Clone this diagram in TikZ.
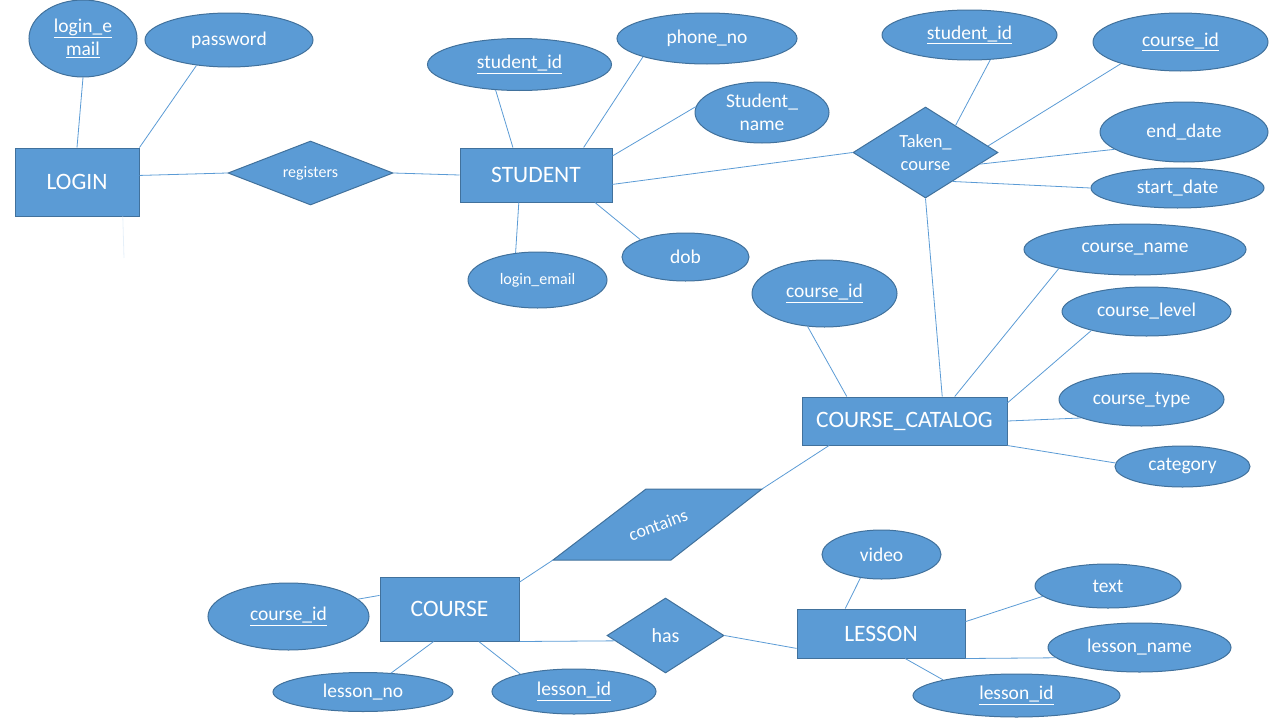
\documentclass[tikz,border=0pt]{standalone}
\usepackage{fontspec}
\setmainfont{Carlito}
\usetikzlibrary{shapes.geometric}
\definecolor{fillc}{HTML}{5B9BD5}
\definecolor{edgec}{HTML}{41719C}
\definecolor{linec}{HTML}{5B9BD5}
\begin{document}
\begin{tikzpicture}[x=1pt,y=-1pt,
  sz/.style 2 args={minimum width=#1pt,minimum height=#2pt},
  ent/.style={rectangle, fill=fillc, draw=edgec, line width=1pt, text=white,
    font=\fontsize{23.5}{28}\selectfont, inner sep=0pt},
  attr/.style={ellipse, fill=fillc, draw=edgec, line width=1pt, text=white,
    font=\fontsize{19.5}{23}\selectfont, inner sep=0pt, align=center},
  rel/.style={diamond, fill=fillc, draw=edgec, line width=1pt, text=white,
    inner sep=0pt, align=center},
  conn/.style={draw=linec, line width=0.8pt}]
\useasboundingbox (0,0) rectangle (1280,720);

% LOGIN
\node[ent, sz={124}{68}] (login) at (77,182) {LOGIN};
\node[attr, sz={108}{77}] (lmail) at (83,38.5) {\underline{login\_e}\\\underline{mail}};
\node[attr, sz={168}{54}] (pwd) at (229,40) {password};
\node[rel, sz={165}{64}, aspect=2.58, font=\fontsize{16}{19}\selectfont] (reg) at (310.5,173) {registers};

% STUDENT
\node[ent, sz={152}{54}] (student) at (536,175) {STUDENT};
\node[attr, sz={184}{52}] (sid) at (519.5,64.5) {\underline{student\_id}};
\node[attr, sz={180}{51}] (phone) at (707,38.5) {phone\_no};
\node[attr, sz={134}{61}] (sname) at (762,112.5) {Student\_\\name};
\node[attr, sz={127}{48}] (dob) at (685.5,257) {dob};
\node[attr, sz={139}{56}, font=\fontsize{16}{19}\selectfont] (lemail) at (537.5,280) {login\_email};

% Taken_course
\node[rel, sz={145}{91}, aspect=1.59, font=\fontsize{18.5}{23}\selectfont] (taken) at (925.5,152.5) {Taken\_\\course};
\node[attr, sz={175}{50}] (sid2) at (969.5,35) {\underline{student\_id}};
\node[attr, sz={175}{58}] (cid2) at (1180.5,42) {\underline{course\_id}};
\node[attr, sz={168}{60}] (edate) at (1184,132) {end\_date};
\node[attr, sz={173}{40}] (sdate) at (1177.5,188) {start\_date};

% COURSE_CATALOG
\node[ent, sz={205}{48}] (cc) at (904.5,421) {COURSE\_CATALOG};
\node[attr, sz={145}{67}] (cid3) at (824.5,293.5) {\underline{course\_id}};
\node[attr, sz={222}{51}] (cname) at (1135,249.5) {course\_name};
\node[attr, sz={169}{49}] (clevel) at (1146.5,311.5) {course\_level};
\node[attr, sz={165}{53}] (ctype) at (1141.5,399.5) {course\_type};
\node[attr, sz={135}{41}] (cat) at (1182.5,466.5) {category};

% contains
\coordinate (ctl) at (646,489);
\coordinate (ctr) at (762,489);
\coordinate (cbr) at (671,560);
\coordinate (cbl) at (553,560);
\filldraw[fill=fillc, draw=edgec, line width=1pt] (ctl) -- (ctr) -- (cbr) -- (cbl) -- cycle;
\node[rotate=20, text=white, font=\fontsize{18}{22}\selectfont, inner sep=0pt] (contains) at (658,525) {contains};

% COURSE
\node[ent, sz={139}{64}] (course) at (449.5,609) {COURSE};
\node[attr, sz={161}{67}] (cid4) at (288.5,616.5) {\underline{course\_id}};
\node[attr, sz={180}{39}] (lno) at (363,692) {lesson\_no};
\node[attr, sz={164}{45}] (lid) at (574,691.5) {\underline{lesson\_id}};
\node[rel, sz={117}{75}, aspect=1.56, font=\fontsize{20}{24}\selectfont] (has) at (665.5,635.5) {has};

% LESSON
\node[ent, sz={168}{49}] (lesson) at (881,633.5) {LESSON};
\node[attr, sz={119}{49}] (video) at (881.5,554.5) {video};
\node[attr, sz={146}{44}] (txt) at (1108,586) {text};
\node[attr, sz={183}{49}] (lname) at (1139.5,647.5) {lesson\_name};
\node[attr, sz={207}{43}] (lid2) at (1016.5,695.5) {\underline{lesson\_id}};

% connectors
\draw[conn] (lmail.south) -- (login.north);
\draw[conn] (pwd.218) -- (login.north east);
\draw[conn] (login.6) -- (reg.west);
\draw[conn] (reg.east) -- (student.west);
\draw[conn] (sid.227) -- (student.130);
\draw[conn] (phone.196) -- (student.30);
\draw[conn] (sname.175) -- (student.14);
\draw[conn] (student.-7) -- (taken.west);
\draw[conn] (student.238) -- (lemail.129);
\draw[conn] (student.-25) -- (dob.159);
\draw[conn] (sid2.-50) -- (taken.42);
\draw[conn] (cid2.200) -- (taken.6);
\draw[conn] (edate.194) -- (taken.-12);
\draw[conn] (sdate.west) -- (taken.-47);
\draw[conn] (taken.south) -- (cc.33);
\draw[conn] (cid3.243) -- (cc.157);
\draw[conn] (cname.194) -- (cc.26);
\draw[conn] (clevel.199) -- (cc.10);
\draw[conn] (cc.east) -- (ctype.197);
\draw[conn] (cc.south east) -- (cat.177);
\draw[conn] (cc.198) -- (ctr);
\draw[conn] (cbl) -- (course.21);
\draw[conn] (cid4.14) -- (course.169);
\draw[conn] (course.244) -- (lno.34);
\draw[conn] (course.-48) -- (lid.162);
\draw[conn] (course.south east) -- (has.186);
\draw[conn] (has.east) -- (lesson.190);
\draw[conn] (video.228) -- (lesson.145);
\draw[conn] (lesson.8) -- (txt.189);
\draw[conn] (lesson.south east) -- (lname.187);
\draw[conn] (lesson.-46) -- (lid2.168);
\coordinate (faint) at (124,258);
\draw[draw=linec!15, line width=0.8pt] (login.-37) -- (faint);
\end{tikzpicture}
\end{document}
